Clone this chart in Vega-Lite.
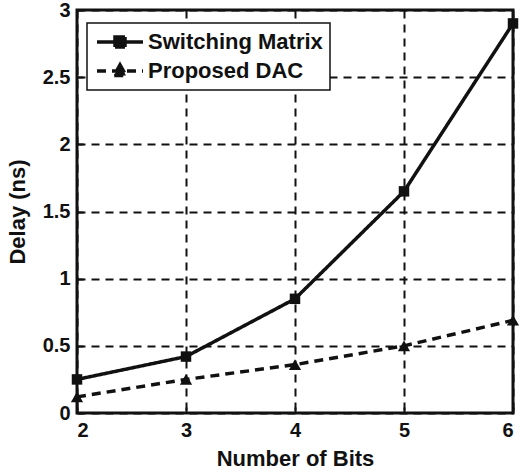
{
  "$schema": "https://vega.github.io/schema/vega-lite/v6.json",
  "width": 436,
  "height": 403,
  "autosize": "none",
  "padding": {"left": 77, "top": 10, "right": 7, "bottom": 59},
  "background": "white",
  "config": {
    "font": "Liberation Sans",
    "view": {"stroke": "#111", "strokeWidth": 3},
    "axis": {
      "labelFont": "Liberation Sans",
      "labelFontWeight": "bold",
      "labelFontSize": 20,
      "labelColor": "#111",
      "titleFont": "Liberation Sans",
      "titleFontWeight": "bold",
      "titleFontSize": 22,
      "titleColor": "#111",
      "domain": false,
      "grid": true,
      "gridColor": "#111",
      "gridDash": [8, 6],
      "gridWidth": 2,
      "gridOpacity": 1,
      "tickColor": "#111",
      "tickWidth": 2,
      "tickSize": -6
    }
  },
  "data": {
    "values": [
      {"bits": 2, "delay": 0.25, "series": "Switching Matrix"},
      {"bits": 3, "delay": 0.42, "series": "Switching Matrix"},
      {"bits": 4, "delay": 0.85, "series": "Switching Matrix"},
      {"bits": 5, "delay": 1.65, "series": "Switching Matrix"},
      {"bits": 6, "delay": 2.9, "series": "Switching Matrix"},
      {"bits": 2, "delay": 0.12, "series": "Proposed DAC"},
      {"bits": 3, "delay": 0.25, "series": "Proposed DAC"},
      {"bits": 4, "delay": 0.36, "series": "Proposed DAC"},
      {"bits": 5, "delay": 0.5, "series": "Proposed DAC"},
      {"bits": 6, "delay": 0.69, "series": "Proposed DAC"}
    ]
  },
  "encoding": {
    "x": {
      "field": "bits", "type": "quantitative",
      "scale": {"domain": [2, 6], "nice": false, "zero": false},
      "axis": {"values": [2, 3, 4, 5, 6], "title": "Number of Bits", "labelPadding": 13, "titlePadding": 8}
    },
    "y": {
      "field": "delay", "type": "quantitative",
      "scale": {"domain": [0, 3], "nice": false},
      "axis": {"values": [0, 0.5, 1, 1.5, 2, 2.5, 3], "format": ".1~f", "title": "Delay (ns)", "labelPadding": 13, "titlePadding": 13}
    }
  },
  "layer": [
    {
      "mark": {"type": "line", "color": "#111", "strokeWidth": 3.5},
      "encoding": {
        "strokeDash": {
          "field": "series", "type": "nominal",
          "scale": {"domain": ["Switching Matrix", "Proposed DAC"], "range": [[1, 0], [9, 6]]},
          "legend": {
            "title": null,
            "orient": "none",
            "legendX": 10,
            "legendY": 13,
            "fillColor": "white",
            "strokeColor": "#111",
            "padding": 7,
            "labelFont": "Liberation Sans",
            "labelFontWeight": "bold",
            "labelFontSize": 22,
            "labelColor": "#111",
            "labelLimit": 300,
            "labelOffset": 16,
            "symbolOffset": 14,
            "symbolSize": 400,
            "symbolStrokeWidth": 3.5,
            "symbolStrokeColor": "#111",
            "symbolFillColor": "#111",
            "rowPadding": 3,
            "encode": {
              "legend": {"update": {"strokeWidth": {"value": 1.5}}},
              "symbols": {
                "update": {
                  "shape": {"signal": "datum.value == 'Switching Matrix' ? 'M-2.3,0H2.3M-0.5,-0.5H0.5V0.5H-0.5Z' : 'M-2.3,0H2.3M0,-0.62L0.6,0.45H-0.6Z'"},
                  "fill": {"value": "#111"},
                  "stroke": {"value": "#111"},
                  "strokeWidth": {"value": 3.5},
                  "strokeDash": {"signal": "datum.value == 'Switching Matrix' ? [1, 0] : [7, 5]"}
                }
              }
            }
          }
        }
      }
    },
    {
      "transform": [{"filter": "datum.series == 'Switching Matrix'"}],
      "mark": {"type": "point", "shape": "square", "filled": true, "color": "#111", "opacity": 1, "size": 110}
    },
    {
      "transform": [{"filter": "datum.series == 'Proposed DAC'"}],
      "mark": {"type": "point", "shape": "triangle-up", "filled": true, "color": "#111", "opacity": 1, "size": 150}
    }
  ]
}
